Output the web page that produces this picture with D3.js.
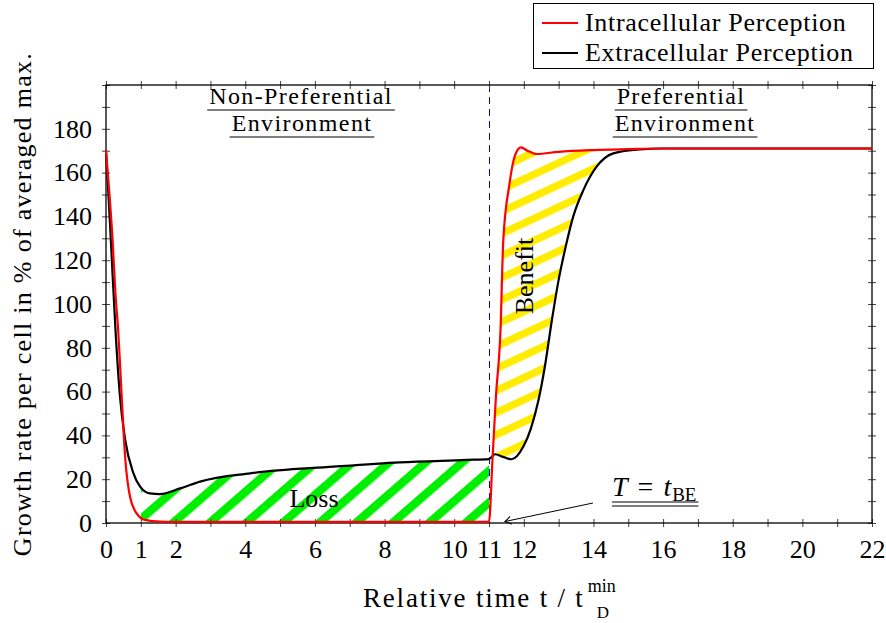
<!DOCTYPE html>
<html>
<head>
<meta charset="utf-8">
<script src="https://cdn.jsdelivr.net/npm/d3@7"></script>
<style>
  body { margin: 0; background: #fff; }
  svg text { font-family: "Liberation Serif", "Times New Roman", serif; fill: #000; }
</style>
</head>
<body>
<svg id="chart" width="886" height="623"></svg>
<script>
// intracellular perception (red)
const redTime  = [0, 0.1, 0.19, 0.27, 0.35, 0.45, 0.55, 0.69, 0.88, 1.12, 1.55, 2, 4, 6, 8, 10, 11,
                  11.1, 11.2, 11.33, 11.41, 11.58, 11.75, 11.92, 12.1, 12.37, 13, 14, 15, 16, 18, 20, 22];
const redValue = [170, 150, 129, 105, 88, 58, 30, 12, 4.4, 1.4, 0.6, 0.5, 0.5, 0.5, 0.5, 0.5, 0.5,
                  29, 58, 88, 129, 154, 168, 171.5, 170, 168.5, 169.5, 170.3, 170.7, 171, 171, 171, 171];

// extracellular perception (black)
const blackTime  = [0, 0.07, 0.14, 0.28, 0.4, 0.55, 0.78, 0.98, 1.26, 1.55, 2.13, 2.7, 4.14, 6.53, 8.44, 10.36, 11,
                    11.17, 11.4, 11.65, 11.99, 12.2, 12.42, 12.6, 12.8, 13, 13.2, 13.42, 13.71, 14.09, 14.57, 15.34, 16, 18, 20, 22];
const blackValue = [170, 150, 129, 86, 58, 38, 23, 16.6, 13.5, 13.2, 15.8, 18.9, 22.7, 25.7, 27.7, 28.8, 29.2,
                    31.4, 30.2, 29.1, 35, 43, 56, 71, 92, 111, 126, 140, 152, 162.7, 168.8, 170.6, 171, 171, 171, 171];

const xTickLabels = [0, 1, 2, 4, 6, 8, 10, 11, 12, 14, 16, 18, 20, 22];
const yTickLabels = [0, 20, 40, 60, 80, 100, 120, 140, 160, 180];
const switchTime = 11;
const lossStart = 1;
const benefitEnd = 16;

const red = redTime.map((t, i) => ({t: t, v: redValue[i]}));
const black = blackTime.map((t, i) => ({t: t, v: blackValue[i]}));

const font = '"Liberation Serif", "Times New Roman", serif';
const svg = d3.select('#chart');
const dim = {top: 85, right: 14, bottom: 100, left: 106};
dim.width = 886 - dim.left - dim.right;
dim.height = 623 - dim.top - dim.bottom;

const x = d3.scaleLinear().domain([0, 22]).range([dim.left, dim.left + dim.width]);
const y = d3.scaleLinear().domain([0, 200]).range([dim.top + dim.height, dim.top]);

// hatch patterns
const defs = svg.append('defs');
function stripes(id, colour, gap, width, angle) {
  defs.append('pattern')
    .attr('id', id)
    .attr('patternUnits', 'userSpaceOnUse')
    .attr('width', gap).attr('height', 10)
    .attr('patternTransform', `rotate(${angle})`)
    .append('rect')
      .attr('width', width).attr('height', 10)
      .attr('fill', colour);
}
stripes('lossHatch', '#00ee00', 24, 8.5, 49);
stripes('benefitHatch', '#ffec00', 20, 7.5, 65);

// clip shapes above / below each curve
const line = d3.line().x(d => x(d.t)).y(d => y(d.v)).curve(d3.curveMonotoneX);
const below = d3.area().x(d => x(d.t)).y0(y(-20)).y1(d => y(d.v)).curve(d3.curveMonotoneX);
const above = d3.area().x(d => x(d.t)).y0(y(220)).y1(d => y(d.v)).curve(d3.curveMonotoneX);

defs.append('clipPath').attr('id', 'aboveRed').append('path').attr('d', above(red));
defs.append('clipPath').attr('id', 'belowRed').append('path').attr('d', below(red));
defs.append('clipPath').attr('id', 'aboveBlack').append('path').attr('d', above(black));
defs.append('clipPath').attr('id', 'belowBlack').append('path').attr('d', below(black));

// loss area: between red (bottom) and black (top)
svg.append('g').attr('clip-path', 'url(#aboveRed)')
  .append('g').attr('clip-path', 'url(#belowBlack)')
  .append('rect')
    .attr('x', x(lossStart)).attr('width', x(switchTime) - x(lossStart))
    .attr('y', y(200)).attr('height', y(0) - y(200))
    .attr('fill', 'url(#lossHatch)');

// benefit area: between black (bottom) and red (top)
svg.append('g').attr('clip-path', 'url(#belowRed)')
  .append('g').attr('clip-path', 'url(#aboveBlack)')
  .append('rect')
    .attr('x', x(switchTime)).attr('width', x(benefitEnd) - x(switchTime))
    .attr('y', y(200)).attr('height', y(0) - y(200))
    .attr('fill', 'url(#benefitHatch)');

// switch line
svg.append('line')
  .attr('x1', Math.round(x(switchTime)) + 0.5).attr('x2', Math.round(x(switchTime)) + 0.5)
  .attr('y1', y(200)).attr('y2', y(0))
  .attr('stroke', '#0000ff').attr('stroke-width', 1)
  .attr('shape-rendering', 'crispEdges')
  .attr('stroke-dasharray', '7,5');

// axes, ticks centred on the frame
const tickColour = '#444';
const xAxis = d3.axisBottom(x).tickValues(d3.range(0, 23))
  .tickFormat(d => xTickLabels.includes(d) ? d : '').tickSize(0).tickPadding(17);
const xg = svg.append('g').attr('transform', `translate(0,${y(0)})`).call(xAxis);
xg.attr('font-family', font);
xg.selectAll('.tick line').attr('y1', -4).attr('y2', 4).attr('stroke', tickColour);
xg.selectAll('.tick text').style('font-size', '26px').style('font-family', font);
xg.select('.domain').remove();

const xTop = svg.append('g').attr('transform', `translate(0,${y(200)})`)
  .call(d3.axisTop(x).tickValues(d3.range(0, 23)).tickFormat('').tickSize(0));
xTop.selectAll('.tick line').attr('y1', -4).attr('y2', 4).attr('stroke', tickColour);
xTop.select('.domain').remove();

const yAxis = d3.axisLeft(y).tickValues(d3.range(0, 201, 10))
  .tickFormat(d => yTickLabels.includes(d) ? d : '').tickSize(0).tickPadding(14);
const yg = svg.append('g').attr('transform', `translate(${x(0)},0)`).call(yAxis);
yg.attr('font-family', font);
yg.selectAll('.tick line').attr('x1', -4).attr('x2', 4).attr('stroke', tickColour);
yg.selectAll('.tick text').style('font-size', '26px').style('font-family', font);
yg.select('.domain').remove();

const yRight = svg.append('g').attr('transform', `translate(${x(22)},0)`)
  .call(d3.axisRight(y).tickValues(d3.range(0, 201, 10)).tickFormat('').tickSize(0));
yRight.selectAll('.tick line').attr('x1', -4).attr('x2', 4).attr('stroke', tickColour);
yRight.select('.domain').remove();

// frame
svg.append('rect')
  .attr('x', x(0)).attr('y', y(200))
  .attr('width', x(22) - x(0)).attr('height', y(0) - y(200))
  .attr('fill', 'none').attr('stroke', '#000').attr('stroke-width', 1.3);

// curves
svg.append('path').datum(black).attr('d', line)
  .attr('fill', 'none').attr('stroke', '#000').attr('stroke-width', 2.2);
svg.append('path').datum(red).attr('d', line)
  .attr('fill', 'none').attr('stroke', '#ff0000').attr('stroke-width', 2.2);

// axis titles
svg.append('text')
  .attr('transform', `translate(31,${(y(0) + y(200)) / 2}) rotate(-90)`)
  .attr('text-anchor', 'middle')
  .style('font-family', font).style('font-size', '26px').style('letter-spacing', '1.3px')
  .text('Growth rate per cell in % of averaged max.');

const xTitle = svg.append('text')
  .attr('x', 363).attr('y', 607)
  .style('font-family', font).style('font-size', '27px').style('letter-spacing', '1.8px')
  .text('Relative time t / t');
const xEnd = 363 + xTitle.node().getComputedTextLength() + 3;
svg.append('text').attr('x', xEnd).attr('y', 592)
  .style('font-family', font).style('font-size', '18px').text('min');
svg.append('text').attr('x', xEnd + 9).attr('y', 618)
  .style('font-family', font).style('font-size', '17px').text('D');

// environment labels with underlines
function underlined(label, cx, baseline) {
  const t = svg.append('text')
    .attr('x', cx).attr('y', baseline)
    .attr('text-anchor', 'middle')
    .style('font-family', font).style('font-size', '24px').style('letter-spacing', '1.4px')
    .text(label);
  const w = t.node().getComputedTextLength();
  svg.append('line')
    .attr('x1', cx - w / 2 - 2).attr('x2', cx + w / 2 + 2)
    .attr('y1', baseline + 6).attr('y2', baseline + 6)
    .attr('stroke', '#000').attr('stroke-width', 1.2);
}
underlined('Non-Preferential', 301, 104);
underlined('Environment', 302, 131);
underlined('Preferential', 681, 104);
underlined('Environment', 685, 131);

// area labels
svg.append('text')
  .attr('x', 314).attr('y', 507)
  .attr('text-anchor', 'middle')
  .style('font-family', font).style('font-size', '26px')
  .text('Loss');
svg.append('text')
  .attr('transform', `translate(533,276) rotate(-90)`)
  .attr('text-anchor', 'middle')
  .style('font-family', font).style('font-size', '26px')
  .text('Benefit');

// T = t_BE annotation
const tbe = svg.append('text').attr('x', 612).attr('y', 496)
  .style('font-family', font).style('font-size', '28px');
tbe.append('tspan').style('font-style', 'italic').text('T');
tbe.append('tspan').attr('dx', 10).text('=');
tbe.append('tspan').attr('dx', 10).style('font-style', 'italic').text('t');
tbe.append('tspan').attr('dy', 5).attr('dx', 1).style('font-size', '19px').text('BE');
const tbeWidth = tbe.node().getComputedTextLength() + 21;
[502, 506].forEach(yy => {
  svg.append('line')
    .attr('x1', 612).attr('x2', 612 + tbeWidth + 2)
    .attr('y1', yy).attr('y2', yy)
    .attr('stroke', '#000').attr('stroke-width', 1);
});

defs.append('marker')
  .attr('id', 'arrowTo')
  .attr('viewBox', '-8 -5 10 10')
  .attr('refX', 0).attr('refY', 0)
  .attr('markerWidth', 10).attr('markerHeight', 10)
  .attr('markerUnits', 'userSpaceOnUse')
  .attr('orient', 'auto')
  .append('path')
    .attr('d', 'M-6,-4 Q-2,-1 0,0 Q-2,1 -6,4')
    .attr('fill', 'none').attr('stroke', '#000').attr('stroke-width', 1);

svg.append('line')
  .attr('x1', 593).attr('y1', 503)
  .attr('x2', 505).attr('y2', 521.5)
  .attr('stroke', '#000').attr('stroke-width', 1)
  .attr('marker-end', 'url(#arrowTo)');

// legend
const legend = svg.append('g');
legend.append('rect')
  .attr('x', 533.5).attr('y', 3.5).attr('width', 340).attr('height', 65)
  .attr('fill', '#fff').attr('stroke', '#000').attr('stroke-width', 1);
const legendItems = [
  {name: 'Intracellular Perception', colour: '#ff0000'},
  {name: 'Extracellular Perception', colour: '#000'}
];
legendItems.forEach((d, i) => {
  const ly = 23 + i * 30;
  legend.append('line')
    .attr('x1', 542).attr('x2', 578).attr('y1', ly).attr('y2', ly)
    .attr('stroke', d.colour).attr('stroke-width', 2);
  legend.append('text')
    .attr('x', 585).attr('y', ly + 8)
    .style('font-family', font).style('font-size', '26px').style('letter-spacing', '0.7px')
    .text(d.name);
});
</script>
</body>
</html>
